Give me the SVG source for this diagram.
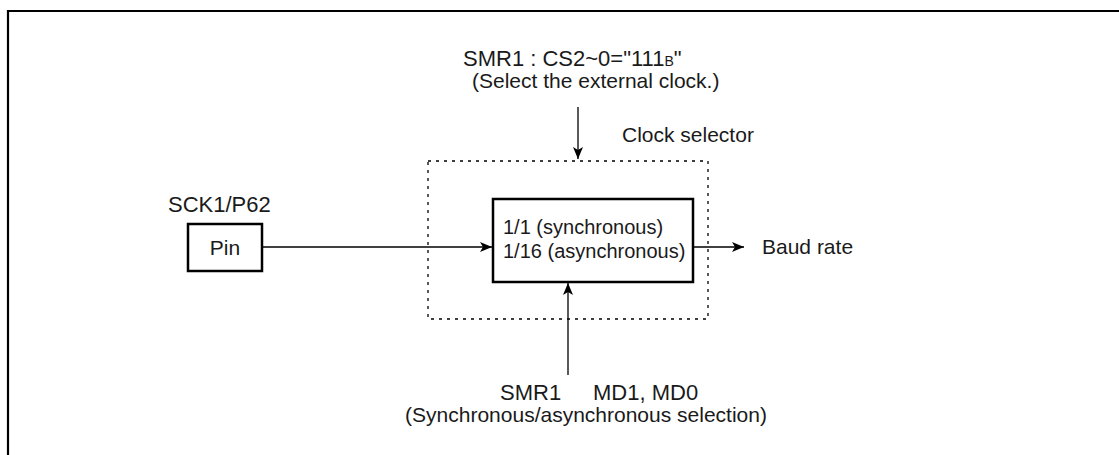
<svg xmlns="http://www.w3.org/2000/svg" width="1119" height="455" viewBox="0 0 1119 455">
  <defs>
    <marker id="arr" viewBox="0 0 12 10" refX="12" refY="5" markerWidth="12" markerHeight="10" markerUnits="userSpaceOnUse" orient="auto">
      <path d="M0,0 L12,5 L0,10 L3,5 Z" fill="#000"/>
    </marker>
    <style>
      text { font-family: "Liberation Sans", Arial, sans-serif; fill: #1a1a1a; }
      .t { font-size: 21px; }
      .box { fill: #fff; stroke: #000; stroke-width: 2.5; }
      .conn { stroke: #000; stroke-width: 1.3; fill: none; marker-end: url(#arr); }
      .dot { fill: none; stroke: #000; stroke-width: 1.3; stroke-dasharray: 3 5; }
    </style>
  </defs>
  <rect width="1119" height="455" fill="#fff"/>
  <path d="M8,455 V11 H1119" fill="none" stroke="#000" stroke-width="2.2"/>

  <g id="clock-selector">
    <rect class="dot" x="428" y="161" width="280" height="158"/>
    <text class="t" x="622" y="142">Clock selector</text>
  </g>

  <g id="pin">
    <text class="t" x="168" y="212" style="font-size:22px">SCK1/P62</text>
    <rect class="box" x="188" y="224" width="74" height="47" stroke-width="2"/>
    <text class="t" x="225" y="255" text-anchor="middle">Pin</text>
  </g>

  <g id="divider">
    <rect class="box" x="493" y="199" width="200" height="83"/>
    <text class="t" x="503" y="234" style="font-size:20px">1/1 (synchronous)</text>
    <text class="t" x="503" y="258" style="font-size:20px">1/16 (asynchronous)</text>
  </g>

  <g id="top-label">
    <text class="t" x="463" y="66" style="font-size:22px">SMR1 : CS2~0="111<tspan style="font-size:14px">B</tspan>"</text>
    <text class="t" x="472" y="88">(Select the external clock.)</text>
  </g>

  <g id="bottom-label">
    <text class="t" y="400" style="font-size:22px"><tspan x="500">SMR1</tspan><tspan x="593">MD1, MD0</tspan></text>
    <text class="t" x="586" y="422" text-anchor="middle">(Synchronous/asynchronous selection)</text>
  </g>

  <g id="baud-rate">
    <text class="t" x="762" y="254">Baud rate</text>
  </g>

  <g id="connectors">
    <line class="conn" x1="262" y1="247" x2="492" y2="247"/>
    <line class="conn" x1="694" y1="247" x2="744" y2="247"/>
    <line class="conn" x1="578" y1="107" x2="578" y2="159"/>
    <line class="conn" x1="568" y1="375" x2="568" y2="283"/>
  </g>
</svg>
